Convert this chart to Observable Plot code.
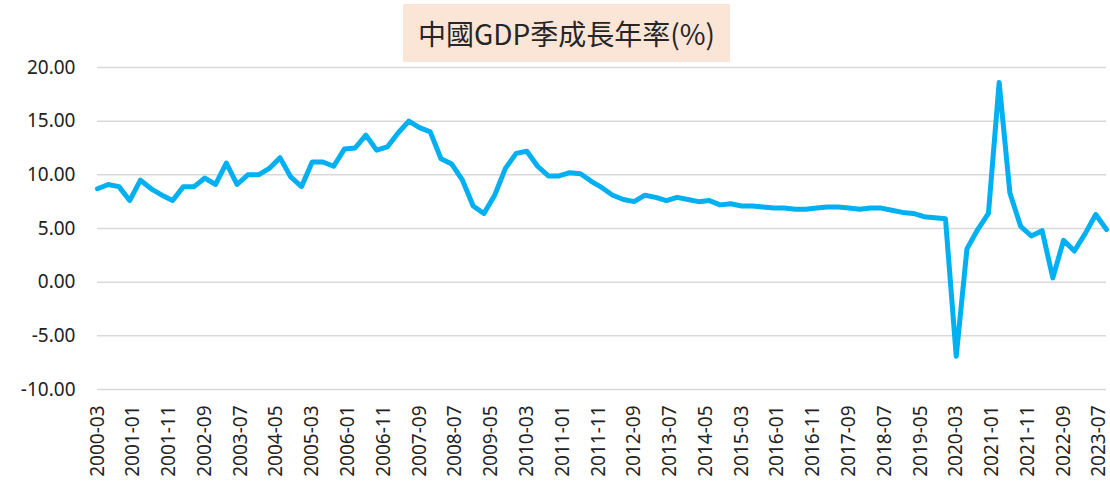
<!DOCTYPE html>
<html><head><meta charset="utf-8">
<script src="https://cdn.jsdelivr.net/npm/d3@7"></script>
<script src="https://cdn.jsdelivr.net/npm/@observablehq/plot@0.6"></script>
<style>
body{margin:0;background:#fff;}
#wrap{position:relative;width:1110px;height:492px;}
#title{position:absolute;left:403px;top:4px;width:327px;height:58px;background:#FBE5D6;font-family:"Noto Sans CJK TC",sans-serif;font-size:28px;display:flex;align-items:center;justify-content:center;color:#262626;z-index:2}
#chart{position:absolute;left:0;top:0}
</style></head><body><div id="wrap"><div id="title"></div><div id="chart"></div></div>
<script>
const titleText = "中國GDP季成長年率(%)";
// quarterly YoY GDP growth (%), 2000Q1 .. 2023Q3
const values = [
  8.7, 9.1, 8.9, 7.6,
  9.5, 8.7, 8.1, 7.6,
  8.9, 8.9, 9.7, 9.1,
  11.1, 9.1, 10.0, 10.0,
  10.6, 11.6, 9.8, 8.9,
  11.2, 11.2, 10.8, 12.4,
  12.5, 13.7, 12.3, 12.6,
  13.9, 15.0, 14.4, 14.0,
  11.5, 11.0, 9.5, 7.1,
  6.4, 8.1, 10.6, 12.0,
  12.2, 10.8, 9.9, 9.9,
  10.2, 10.1, 9.4, 8.8,
  8.1, 7.7, 7.5, 8.1,
  7.9, 7.6, 7.9, 7.7,
  7.5, 7.6, 7.2, 7.3,
  7.1, 7.1, 7.0, 6.9,
  6.9, 6.8, 6.8, 6.9,
  7.0, 7.0, 6.9, 6.8,
  6.9, 6.9, 6.7, 6.5,
  6.4, 6.1, 6.0, 5.9,
  -6.9, 3.1, 4.9, 6.4,
  18.6, 8.3, 5.2, 4.3,
  4.8, 0.4, 3.9, 2.9,
  4.5, 6.3, 4.9
];
const tickLabels = ["2000-03","2001-01","2001-11","2002-09","2003-07","2004-05","2005-03","2006-01","2006-11","2007-09","2008-07","2009-05","2010-03","2011-01","2011-11","2012-09","2013-07","2014-05","2015-03","2016-01","2016-11","2017-09","2018-07","2019-05","2020-03","2021-01","2021-11","2022-09","2023-07"];
const yTicks = [-10, -5, 0, 5, 10, 15, 20];

document.getElementById("title").textContent = titleText;

const startYear = 2000, startMonth = 3;
function monthIndex(s){ const [y,m] = s.split("-").map(Number); return (y-startYear)*12 + (m-startMonth); }
const quarters = values.map((v,i) => `${startYear+Math.floor(i/4)}-${String(3*(i%4+1)).padStart(2,"0")}`);
const data = quarters.map((q,i) => ({m: monthIndex(q), v: values[i], q}));
const tickMonths = tickLabels.map(monthIndex);
const labelOf = new Map(tickLabels.map(l => [monthIndex(l), l]));

const chart = Plot.plot({
  width: 1110, height: 492,
  marginLeft: 97, marginRight: 4, marginTop: 67, marginBottom: 103,
  style: {fontFamily: "'Noto Sans', sans-serif", color: "#222", background: "transparent"},
  x: {type: "linear", domain: [0, monthIndex(quarters[quarters.length-1])], axis: null, label: null},
  y: {domain: [-10, 20], axis: null, label: null},
  marks: [
    Plot.ruleY(yTicks, {stroke: "#D9D9D9", strokeWidth: 1.5}),
    Plot.axisY({ticks: yTicks, tickFormat: d => d.toFixed(2), tickSize: 0, tickPadding: 22, fontSize: 19, label: null}),
    Plot.axisX({ticks: tickMonths, tickFormat: m => labelOf.get(m), tickRotate: -90, tickSize: 0, tickPadding: 16, fontSize: 19, label: null}),
    Plot.line(data, {x: "m", y: "v", stroke: "#00B0F0", strokeWidth: 5, strokeLinejoin: "round", strokeLinecap: "round"})
  ]
});
document.getElementById("chart").appendChild(chart);
</script>
</body></html>
